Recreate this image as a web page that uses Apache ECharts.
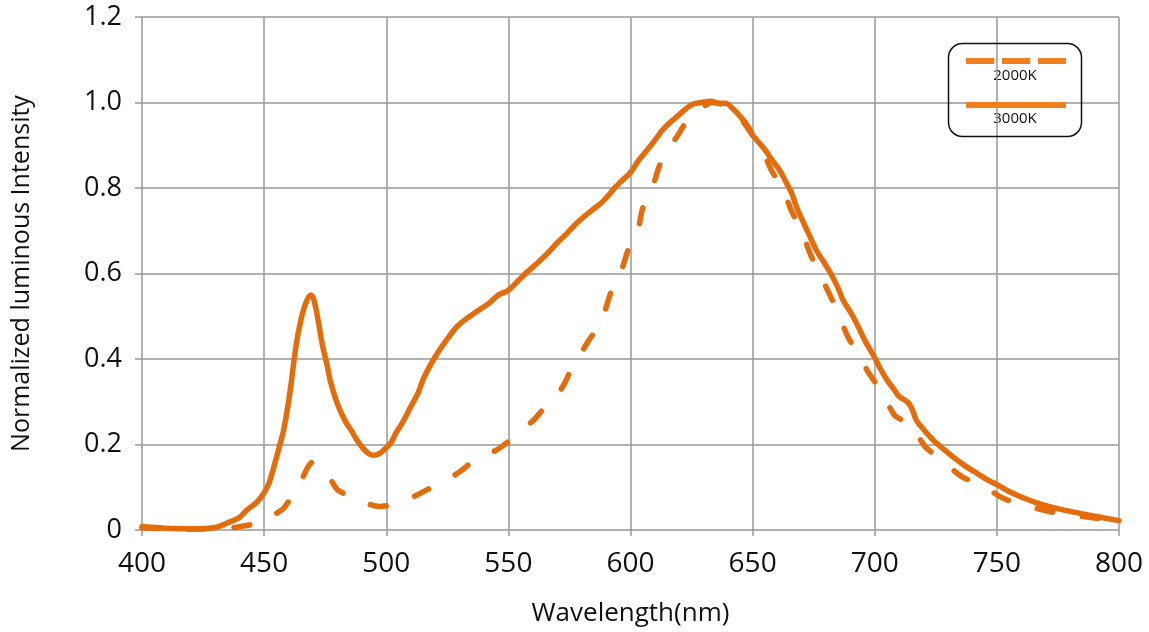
<!DOCTYPE html>
<html>
<head>
<meta charset="utf-8">
<script src="https://cdn.jsdelivr.net/npm/echarts@6/dist/echarts.min.js"></script>
<style>html,body{margin:0;padding:0;background:#fff;}#c{width:1149px;height:632px;}</style>
</head>
<body>
<div id="c"></div>
<script>
const seriesNames = ['2000K', '3000K'];
const xTicks = [400, 450, 500, 550, 600, 650, 700, 750, 800];
const yTicks = [0, 0.2, 0.4, 0.6, 0.8, 1.0, 1.2];

const wl3000 = [400,410,420,430,436,440,443,447,450,452,454,456,458,460,461,463,465,467,469,470,471.5,473,474,476,477,480,483,486,488,491,493,495,497,499,502,504,507,510,513,515,518,521,525,529,533,537,542,546,550,554,558,562,566,570,574,578,581,584,588,591,594,597,600,603,607,610,613,616,619,622,625,629,633,636,639,642,645,648,650,652,655,658,661,664,666,668,671,674,676,679,682,685,687,690,692.5,696,700,702,705,708,710,712,714,715.5,717,720,724,728,732,737,742,746,750,755,760,766,772,778,784,790,795,800];
const val3000 = [0.008,0.004,0.003,0.006,0.019,0.03,0.047,0.065,0.087,0.11,0.148,0.19,0.234,0.30,0.34,0.429,0.49,0.53,0.55,0.545,0.51,0.46,0.429,0.38,0.351,0.295,0.257,0.23,0.21,0.188,0.178,0.175,0.178,0.187,0.205,0.227,0.255,0.288,0.32,0.351,0.385,0.414,0.447,0.476,0.495,0.511,0.53,0.55,0.561,0.583,0.605,0.625,0.647,0.672,0.694,0.718,0.733,0.747,0.765,0.783,0.803,0.82,0.836,0.862,0.89,0.912,0.935,0.952,0.967,0.982,0.995,1.0,1.003,0.998,0.998,0.985,0.967,0.945,0.924,0.91,0.89,0.865,0.842,0.81,0.788,0.755,0.717,0.68,0.655,0.628,0.60,0.566,0.538,0.51,0.484,0.443,0.403,0.38,0.351,0.328,0.312,0.305,0.296,0.28,0.257,0.235,0.21,0.19,0.171,0.15,0.132,0.118,0.106,0.09,0.077,0.064,0.054,0.046,0.039,0.032,0.027,0.022];

const wl2000 = [400,420,430,438,442,446,450,454,458,461,463.5,466,468,470,472,474,477,480,484,488,492,497,502,507,512,517,522,527,531,536,541,546,550,553,556,560,564,567,570,573,575,577,579,582,585,587,589,592,594,596,599,601,603,605,607,609,612,614,616,619,621.5,624,627,630,633,636,640,644,648,652,655,658,662,666,670,673.5,677,681.6,685,689,693,698,703,708,712,715,720.6,727.5,735.6,743.8,752.6,761.6,771.6,780.6,790,800];
const val2000 = [0.005,0.002,0.003,0.006,0.01,0.014,0.02,0.035,0.051,0.075,0.094,0.125,0.148,0.159,0.155,0.14,0.12,0.094,0.082,0.07,0.062,0.055,0.059,0.066,0.08,0.095,0.11,0.125,0.14,0.163,0.175,0.19,0.207,0.222,0.238,0.255,0.281,0.298,0.316,0.343,0.367,0.385,0.405,0.435,0.461,0.482,0.503,0.557,0.58,0.602,0.655,0.68,0.702,0.753,0.778,0.802,0.854,0.875,0.896,0.92,0.943,0.96,0.978,0.99,1.0,0.998,0.99,0.97,0.94,0.905,0.875,0.838,0.803,0.745,0.702,0.647,0.604,0.55,0.507,0.452,0.413,0.363,0.323,0.269,0.255,0.246,0.195,0.164,0.125,0.105,0.074,0.058,0.043,0.035,0.028,0.021];

const color = '#E46C0A';
const legendColor = '#F0801F';
const font = '"Open Sans", "Noto Sans", sans-serif';
const zip = (xs, ys) => xs.map((x, i) => [x, ys[i]]);

const chart = echarts.init(document.getElementById('c'), null, {renderer: 'canvas'});
chart.setOption({
  animation: false,
  grid: {left: 142, right: 30, top: 17, bottom: 102, show: false},
  xAxis: {
    type: 'value', min: 400, max: 800, interval: 50,
    name: 'Wavelength(nm)', nameLocation: 'middle', nameGap: 71,
    nameTextStyle: {fontFamily: font, fontSize: 26, color: '#111'},
    axisLine: {show: false},
    axisTick: {show: true, length: 6, lineStyle: {color: '#999', width: 1.5}},
    axisLabel: {fontFamily: font, fontSize: 28, color: '#111', margin: 20},
    splitLine: {show: true, lineStyle: {color: '#999', width: 1.5}}
  },
  yAxis: {
    type: 'value', min: 0, max: 1.2, interval: 0.2,
    name: 'Normalized luminous Intensity', nameLocation: 'middle', nameGap: 108,
    nameTextStyle: {fontFamily: font, fontSize: 25, color: '#111'},
    axisLine: {show: false},
    axisTick: {show: true, length: 7, lineStyle: {color: '#999', width: 1.5}},
    axisLabel: {fontFamily: font, fontSize: 27, color: '#111', margin: 20,
      formatter: v => v === 0 ? '0' : v.toFixed(1)},
    splitLine: {show: true, lineStyle: {color: '#999', width: 1.5}}
  },
  legend: {
    orient: 'vertical', left: 958, top: 53, itemWidth: 100, itemHeight: 6, itemGap: 38,
    formatter: () => '', textStyle: {fontSize: 1},
    itemStyle: {opacity: 0},
    data: [
      {name: seriesNames[0], lineStyle: {color: legendColor, width: 6, type: [28.3, 7.7], cap: 'butt'}},
      {name: seriesNames[1], lineStyle: {color: legendColor, width: 6, type: 'solid', cap: 'butt'}}
    ]
  },
  graphic: [
    {type: 'rect', shape: {x: 948.5, y: 43.5, width: 133, height: 93, r: 14},
      style: {fill: 'none', stroke: '#111', lineWidth: 1.5}, z: 1},
    {type: 'text', x: 1015, y: 76, style: {text: '2000K', fontFamily: font, fontSize: 15, fill: '#111', textAlign: 'center', textVerticalAlign: 'middle'}},
    {type: 'text', x: 1015, y: 118.5, style: {text: '3000K', fontFamily: font, fontSize: 15, fill: '#111', textAlign: 'center', textVerticalAlign: 'middle'}}
  ],
  series: [
    {name: seriesNames[0], type: 'line', data: zip(wl2000, val2000), showSymbol: false, symbol: 'none', smooth: 0.3,
      color: color, lineStyle: {color: color, width: 5.5, type: [16, 30], cap: 'round'}, z: 3},
    {name: seriesNames[1], type: 'line', data: zip(wl3000, val3000), showSymbol: false, symbol: 'none', smooth: 0.3,
      color: color, lineStyle: {color: color, width: 5.5, type: 'solid', cap: 'round'}, z: 4}
  ]
});
</script>
</body>
</html>
